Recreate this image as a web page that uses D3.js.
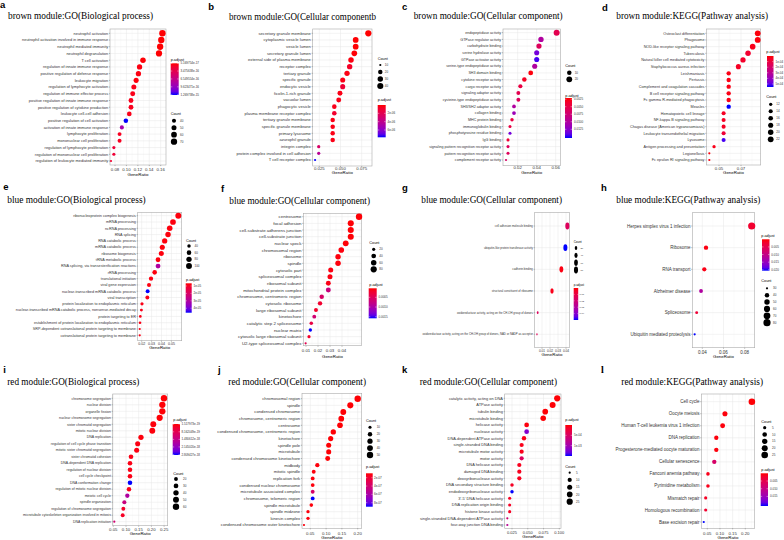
<!DOCTYPE html>
<html><head><meta charset="utf-8">
<script src="https://cdn.jsdelivr.net/npm/d3@7"></script>
<style>body{margin:0;background:#fff}svg{display:block}</style></head>
<body><svg id="c" width="784" height="540"></svg>
<script>
// ---------------- DATA ----------------
const aTerms=["neutrophil activation","neutrophil activation involved in immune response","neutrophil mediated immunity","neutrophil degranulation","T cell activation","regulation of innate immune response","positive regulation of defense response","leukocyte migration","regulation of lymphocyte activation","regulation of immune effector process","positive regulation of innate immune response","positive regulation of cytokine production","leukocyte cell-cell adhesion","positive regulation of cell activation","activation of innate immune response","lymphocyte proliferation","mononuclear cell proliferation","regulation of lymphocyte proliferation","regulation of mononuclear cell proliferation","regulation of leukocyte mediated immunity"];
const aRatio=[0.163,0.161,0.159,0.157,0.129,0.123,0.121,0.117,0.113,0.111,0.108,0.108,0.105,0.099,0.092,0.088,0.088,0.078,0.078,0.073];
const aCount=[72,71,70,69,57,54,53,51,50,49,48,48,46,44,40,39,39,34,34,32];
const aPadj=[5.2e-17,5.2e-17,5.2e-17,5.2e-17,5.8e-17,8.3e-17,8.3e-17,7.1e-17,1.08e-16,1.08e-16,1.2e-16,1.2e-16,1.08e-16,1.28e-15,8.48e-16,1.32e-16,1.32e-16,2.31e-16,2.31e-16,1.94e-16];
const aPadjDomain=[4.6e-17,1.28e-15];
const aPadjLabels=["5.169754e-17","3.475638e-16","6.549554e-16","9.623471e-16","1.269738e-15"];
const aXTicks=[0.08,0.10,0.12,0.14,0.16];
const aXLabels=["0.08","0.10","0.12","0.14","0.16"];
const aCountBreaks=[40,50,60,70];

const bTerms=["secretory granule membrane","cytoplasmic vesicle lumen","vesicle lumen","secretory granule lumen","external side of plasma membrane","receptor complex","tertiary granule","specific granule","endocytic vesicle","ficolin-1-rich granule","vacuolar lumen","phagocytic vesicle","plasma membrane receptor complex","tertiary granule membrane","specific granule membrane","primary lysosome","azurophil granule","integrin complex","protein complex involved in cell adhesion","T cell receptor complex"];
const bRatio=[0.0828,0.0679,0.0679,0.0663,0.0624,0.0608,0.0577,0.0526,0.0526,0.0494,0.0479,0.0427,0.0427,0.0408,0.0408,0.0408,0.0408,0.0243,0.0243,0.020];
const bCount=[41,34,34,33,31,30,29,26,26,25,24,21,21,20,20,20,20,12,12,10];
const bPadj=[1e-8,5e-8,5e-8,8e-8,2e-7,7e-7,2.5e-7,3e-7,1.1e-6,3e-7,3.5e-7,4e-7,9e-7,3e-7,3e-7,3e-7,3e-7,2.7e-6,4.3e-6,7.75e-6];
const bPadjDomain=[0,7.75e-6];
const bPadjLabels=["2e-06","4e-06","6e-06"];
const bXTicks=[0.025,0.05,0.075];
const bXLabels=["0.025","0.050","0.075"];
const bCountBreaks=[10,20,30,40];

const cTerms=["endopeptidase activity","GTPase regulator activity","carbohydrate binding","serine hydrolase activity","GTPase activator activity","serine-type endopeptidase activity","SH3 domain binding","cytokine receptor activity","cargo receptor activity","signaling adaptor activity","cysteine-type endopeptidase activity","SH3/SH2 adaptor activity","collagen binding","MHC protein binding","immunoglobulin binding","phosphotyrosine residue binding","IgG binding","signaling pattern recognition receptor activity","pattern recognition receptor activity","complement receptor activity"];
const cRatio=[0.061,0.0445,0.0424,0.040,0.040,0.0379,0.0337,0.027,0.0228,0.0207,0.0207,0.0161,0.0161,0.014,0.0119,0.0119,0.0098,0.0098,0.0098,0.0077];
const cCount=[22,16,15,14,14,14,12,10,8,7,7,6,6,5,4,4,4,4,4,3];
const cPadj=[0.00543,0.01008,0.00609,0.01341,0.01474,0.01008,0.00237,0.00316,0.00476,0.00543,0.00609,0.01008,0.01141,0.00476,0.00476,0.01341,0.0041,0.00609,0.00609,0.00676];
const cPadjDomain=[0.0021,0.0154];
const cPadjLabels=["0.0025","0.0050","0.0075","0.0100","0.0125"];
const cXTicks=[0.02,0.04,0.06];
const cXLabels=["0.02","0.04","0.06"];
const cCountBreaks=[10,20];

const dTerms=["Osteoclast differentiation","Phagosome","NOD-like receptor signaling pathway","Tuberculosis","Natural killer cell mediated cytotoxicity","Staphylococcus aureus infection","Leishmaniasis","Pertussis","Complement and coagulation cascades","B cell receptor signaling pathway","Fc gamma R-mediated phagocytosis","Measles","Hematopoietic cell lineage","NF-kappa B signaling pathway","Chagas disease (American trypanosomiasis)","Leukocyte transendothelial migration","Lysosome","Antigen processing and presentation","Legionellosis","Fc epsilon RI signaling pathway"];
const dRatio=[0.0852,0.0852,0.0806,0.0764,0.0718,0.0676,0.0588,0.0588,0.0588,0.0588,0.0588,0.0588,0.0542,0.0542,0.0542,0.0542,0.0542,0.0455,0.0412,0.0412];
const dCount=[22,22,21,20,19,18,15,15,15,15,15,15,14,14,14,14,14,12,11,11];
const dPadj=[1.1e-5,1.1e-5,2.8e-5,6.6e-5,5.5e-5,4.4e-5,2.2e-5,2.2e-5,2.2e-5,2.2e-5,2.2e-5,5.54e-4,4.4e-5,4.4e-5,4.4e-5,8.3e-5,5.26e-4,2.8e-5,1.1e-5,1.7e-5];
const dPadjDomain=[0,5.54e-4];
const dPadjLabels=["1e-04","2e-04","3e-04","4e-04","5e-04"];
const dXTicks=[0.05,0.07];
const dXLabels=["0.05","0.07"];
const dCountBreaks=[12,14,16,18,20,22];

const eTerms=["ribonucleoprotein complex biogenesis","mRNA processing","ncRNA processing","RNA splicing","RNA catabolic process","mRNA catabolic process","ribosome biogenesis","tRNA metabolic process","RNA splicing, via transesterification reactions","rRNA processing","translational initiation","viral gene expression","nuclear-transcribed mRNA catabolic process","viral transcription","protein localization to endoplasmic reticulum","nuclear-transcribed mRNA catabolic process, nonsense-mediated decay","protein targeting to ER","establishment of protein localization to endoplasmic reticulum","SRP-dependent cotranslational protein targeting to membrane","cotranslational protein targeting to membrane"];
const eRatio=[0.057,0.0516,0.0483,0.0466,0.0432,0.0408,0.0398,0.0365,0.0365,0.0331,0.0294,0.0274,0.026,0.0257,0.0203,0.0197,0.0186,0.0183,0.018,0.018];
const eCount=[103,93,87,84,78,73,72,66,66,60,53,49,47,46,37,35,33,33,32,32];
const ePadj=[7.2e-6,7.2e-6,7.2e-6,7.2e-6,7.2e-6,7.2e-6,7.2e-6,7.2e-6,3.02e-5,7.2e-6,7.6e-6,7.6e-6,4.6e-5,8.0e-6,8.0e-6,8.4e-6,8.0e-6,8.0e-6,8.0e-6,8.0e-6];
const ePadjDomain=[6.4e-6,4.6e-5];
const ePadjLabels=["1e-05","2e-05","3e-05","4e-05"];
const eXTicks=[0.02,0.03,0.04,0.05];
const eXLabels=["0.02","0.03","0.04","0.05"];
const eCountBreaks=[40,60,80,100];

const fTerms=["centrosome","focal adhesion","cell-substrate adherens junction","cell-substrate junction","nuclear speck","chromosomal region","ribosome","spindle","cytosolic part","spliceosomal complex","ribosomal subunit","mitochondrial protein complex","chromosome, centromeric region","cytosolic ribosome","large ribosomal subunit","kinetochore","catalytic step 2 spliceosome","nuclear matrix","cytosolic large ribosomal subunit","U2-type spliceosomal complex"];
const fRatio=[0.0542,0.0473,0.0473,0.0473,0.0431,0.0394,0.0367,0.0367,0.0306,0.030,0.0286,0.0286,0.0231,0.0217,0.0183,0.0169,0.0144,0.0136,0.0125,0.0097];
const fCount=[87,76,76,76,69,63,59,59,49,48,46,46,37,35,29,27,23,22,20,16];
const fPadj=[5.1e-5,5.1e-5,5.1e-5,5.1e-5,5.1e-5,6.7e-5,6.7e-5,6.7e-5,8.2e-5,8.2e-5,9.8e-5,7.31e-4,5.76e-4,2.21e-4,1.9e-4,6.54e-4,3.45e-4,1.58e-3,1.9e-4,4.22e-4];
const fPadjDomain=[3.6e-5,1.58e-3];
const fPadjLabels=["0.0005","0.0010","0.0015"];
const fXTicks=[0.01,0.02,0.03,0.04];
const fXLabels=["0.01","0.02","0.03","0.04"];
const fCountBreaks=[20,40,60,80];

const gTerms=["cell adhesion molecule binding","ubiquitin-like protein transferase activity","cadherin binding","structural constituent of ribosome","oxidoreductase activity, acting on the CH-OH group of donors","oxidoreductase activity, acting on the CH-OH group of donors, NAD or NADP as acceptor"];
const gRatio=[0.0417,0.0392,0.0342,0.0225,0.0046,0.0037];
const gCount=[79,74,65,43,9,7];
const gPadj=[0.015,0.05,0.0015,0.0025,0.015,0.014];
const gPadjDomain=[0,0.05];
const gPadjLabels=["0.01","0.02","0.03","0.04"];
const gXTicks=[0.01,0.02,0.03,0.04];
const gXLabels=["0.01","0.02","0.03","0.04"];
const gCountBreaks=[20,40,60,80];

const hTerms=["Herpes simplex virus 1 infection","Ribosome","RNA transport","Alzheimer disease","Spliceosome","Ubiquitin mediated proteolysis"];
const hRatio=[0.0866,0.0435,0.0419,0.0388,0.0347,0.0328];
const hCount=[78,39,38,35,31,30];
const hPadj=[0.00247,0.00062,0.00082,0.01236,0.00309,0.0206];
const hPadjDomain=[0,0.0206];
const hPadjLabels=["0.005","0.010","0.015","0.020"];
const hXTicks=[0.04,0.06,0.08];
const hXLabels=["0.04","0.06","0.08"];
const hCountBreaks=[30,40,50,60,70,80];

const iTerms=["chromosome segregation","nuclear division","organelle fission","nuclear chromosome segregation","sister chromatid segregation","mitotic nuclear division","DNA replication","regulation of cell cycle phase transition","mitotic sister chromatid segregation","sister chromatid cohesion","DNA-dependent DNA replication","regulation of nuclear division","cell cycle checkpoint","DNA conformation change","regulation of mitotic nuclear division","meiotic cell cycle","spindle organization","regulation of chromosome segregation","microtubule cytoskeleton organization involved in mitosis","DNA replication initiation"];
const iRatio=[0.2496,0.243,0.243,0.2326,0.2075,0.2035,0.159,0.146,0.142,0.1197,0.1157,0.1157,0.1157,0.1157,0.1118,0.1052,0.0935,0.0895,0.087,0.054];
const iCount=[60,58,58,56,50,49,38,35,34,29,28,28,28,28,27,25,22,21,21,13];
const iPadj=[1.57e-19,1.57e-19,1.57e-19,1.57e-19,1.84e-19,1.84e-19,1.84e-19,2.12e-19,2.12e-19,2.39e-19,2.39e-19,2.39e-19,2.39e-19,2.85e-18,2.66e-19,1.76e-18,1.354e-18,4.02e-19,3.48e-19,1.218e-18];
const iPadjDomain=[1.3e-19,2.85e-18];
const iPadjLabels=["1.517973e-19","8.162049e-19","1.480612e-18","2.145020e-18","2.809427e-18"];
const iXTicks=[0.05,0.10,0.15,0.20,0.25];
const iXLabels=["0.05","0.10","0.15","0.20","0.25"];
const iCountBreaks=[20,30,40,50,60];

const jTerms=["chromosomal region","spindle","condensed chromosome","chromosome, centromeric region","centrosome","condensed chromosome, centromeric region","kinetochore","spindle pole","microtubule","condensed chromosome kinetochore","midbody","mitotic spindle","replication fork","condensed nuclear chromosome","microtubule associated complex","chromosome, telomeric region","spindle microtubule","spindle midzone","kinesin complex","condensed chromosome outer kinetochore"];
const jRatio=[0.2,0.1766,0.1544,0.148,0.144,0.1228,0.1145,0.1082,0.1082,0.105,0.0722,0.0608,0.0576,0.0576,0.0576,0.0576,0.0532,0.0427,0.0427,0.030];
const jCount=[50,44,39,37,36,31,29,27,27,26,18,15,14,14,14,14,13,11,11,8];
const jPadj=[1.0e-7,1.0e-7,1.0e-7,1.0e-7,1.0e-7,1.0e-7,1.0e-7,1.0e-7,1.0e-7,1.0e-7,1.1e-7,1.1e-7,1.1e-7,1.1e-7,3.75e-7,8.96e-7,1.1e-7,1.1e-7,1.1e-7,1.1e-7];
const jPadjDomain=[0.94e-7,8.96e-7];
const jPadjLabels=["2e-07","4e-07","6e-07","8e-07"];
const jXTicks=[0.05,0.10,0.15,0.20];
const jXLabels=["0.05","0.10","0.15","0.20"];
const jCountBreaks=[10,20,30,40,50];

const kTerms=["catalytic activity, acting on DNA","ATPase activity","tubulin binding","microtubule binding","helicase activity","nuclease activity","DNA-dependent ATPase activity","single-stranded DNA binding","microtubule motor activity","motor activity","DNA helicase activity","damaged DNA binding","deoxyribonuclease activity","DNA secondary structure binding","endodeoxyribonuclease activity","3'-5' DNA helicase activity","DNA replication origin binding","histone kinase activity","single-stranded DNA-dependent ATPase activity","four-way junction DNA binding"];
const kRatio=[0.0967,0.0894,0.0777,0.0745,0.0482,0.0482,0.044,0.0403,0.0403,0.0403,0.0366,0.0366,0.0366,0.025,0.025,0.0213,0.0213,0.0213,0.0176,0.0176];
const kCount=[25,23,20,19,13,13,11,10,10,10,10,10,10,7,7,6,6,6,5,5];
const kPadj=[1.5e-5,1.5e-5,1.5e-5,1.5e-5,3e-5,1.2e-3,6e-5,7.5e-5,7.5e-5,4.5e-4,9e-5,9e-5,9e-5,1.2e-4,1.5e-3,1.2e-4,1.2e-4,1.2e-4,6e-4,8.25e-4];
const kPadjDomain=[0,1.5e-3];
const kPadjLabels=["5e-04","1e-03"];
const kXTicks=[0.025,0.05,0.075,0.1];
const kXLabels=["0.025","0.050","0.075","0.100"];
const kCountBreaks=[5,10,15,20,25];

const lTerms=["Cell cycle","Oocyte meiosis","Human T-cell leukemia virus 1 infection","DNA replication","Progesterone-mediated oocyte maturation","Cellular senescence","Fanconi anemia pathway","Pyrimidine metabolism","Mismatch repair","Homologous recombination","Base excision repair"];
const lRatio=[0.226,0.1197,0.1105,0.0855,0.0855,0.0776,0.0526,0.0526,0.0436,0.0436,0.036];
const lCount=[25,13,12,9,9,9,6,6,5,5,4];
const lPadj=[2.1e-4,4.2e-4,4.2e-4,4.2e-4,4.2e-4,0.00742,0.00106,0.00106,0.0017,0.00254,0.0212];
const lPadjDomain=[0,0.0212];
const lPadjLabels=["0.005","0.010","0.015"];
const lXTicks=[0.05,0.10,0.15,0.20];
const lXLabels=["0.05","0.10","0.15","0.20"];
const lCountBreaks=[5,10,15,20,25];

const titles={a:"brown module:GO(Biological process)",b:"brown module:GO(Cellular componentb",c:"brown module:GO(Cellular component)",d:"brown module:KEGG(Pathway analysis)",
 e:"blue module:GO(Biological process)",f:"blue module:GO(Cellular component)",g:"blue module:GO(Cellular component)",h:"blue module:KEGG(Pathway analysis)",
 i:"red module:GO(Biological process)",j:"red module:GO(Cellular component)",k:"red module:GO(Cellular component)",l:"red module:KEGG(Pathway analysis)"};

// ---------------- LAYOUT ----------------
const layout={
 a:{letter:[0,7.5],title:[8,19,145],plot:[110,166,29,165],rows:[33.3,161],tickPx:[115,160.7],tickY:170.5,gtY:175.5,lfs:3.9,tfs:4.3,rMin:1.1,rMax:3.2,
    cb:{x:170.7,w:8,y0:63.3,y1:95,ty:60.8,lx:180.5},cl:{ty:114.8,dx:174,lx:180,y0:120.7,y1:141.7},legX:170.7},
 b:{letter:[208.3,10],title:[229,19.5,147],plot:[312.7,372,29,166],rows:[33.3,160],tickPx:[319.3,361.7],tickY:169.8,gtY:174.2,lfs:4.1,tfs:4.3,rMin:1.1,rMax:3.1,
    cb:{x:377.7,w:8,y0:105,y1:137.3,ty:100.5,lx:387.5},cl:{ty:59.8,dx:380.3,lx:384.8,y0:65,y1:86},legX:377.7},
 c:{letter:[402,10],title:[413.7,19,149],plot:[503,560.3,29,165.7],rows:[32.7,160],tickPx:[517.7,555.7],tickY:169.2,gtY:174.2,lfs:3.65,tfs:4.3,rMin:1.1,rMax:3.0,
    cb:{x:565,w:7,y0:98,y1:138,ty:96.5,lx:574},cl:{ty:67.2,dx:569.3,lx:574.7,y0:72.7,y1:79.3},legX:565.3},
 d:{letter:[602,10.7],title:[616.3,19,151.7],plot:[706.3,760.7,29,165],rows:[33.3,160],tickPx:[719,741],tickY:169.8,gtY:174.2,lfs:3.75,tfs:4.3,rMin:1.1,rMax:2.9,
    cb:{x:767,w:6.5,y0:56,y1:87,ty:53.2,lx:775.5},cl:{ty:97.5,dx:770.7,lx:776.3,y0:104.3,y1:139.3},legX:766.3},
 e:{letter:[3.3,190],title:[7.3,202.5,138.4],plot:[137.7,181.7,212.3,340.7],rows:[215.7,335.3],tickPx:[141.7,171.4],tickY:345,gtY:348.8,lfs:3.75,tfs:3.6,rMin:1.1,rMax:3.0,
    cb:{x:185.7,w:6,y0:283.3,y1:312.7,ty:280.8,lx:193.5},cl:{ty:241.5,dx:189,lx:194.5,y0:246,y1:266},legX:186},
 f:{letter:[221,191.7],title:[229.3,203.7,140.7],plot:[303.3,361.7,213.3,345.7],rows:[216.7,343.3],tickPx:[306,342],tickY:352.2,gtY:357.5,lfs:4.4,tfs:4.3,rMin:1.1,rMax:3.2,
    cb:{x:368.7,w:8,y0:288.3,y1:318.3,ty:285.5,lx:378.5},cl:{ty:244.2,dx:373.7,lx:379.3,y0:249.3,y1:269.3},legX:369.3},
 g:{letter:[402,191],title:[421.3,203,140.7],plot:[534.7,569.3,212.3,347.7],rows:[226,334.3],tickPx:[542,566],tickY:351.5,gtY:355.5,lfs:2.8,tfs:3.2,rMin:1.1,rMax:3.4,aspect:0.6,small:true,
    cb:{x:573.7,w:4.5,y0:288,y1:320,ty:286,lx:579.5},cl:{ty:243.2,dx:576,lx:580.5,y0:248,y1:270},legX:573.7},
 h:{letter:[601,190.7],title:[616.3,203,144],plot:[692.3,754.7,212.7,347.7],rows:[226,334.3],tickPx:[702.3,744.7],tickY:354.2,gtY:358.2,lfs:4.5,tfs:4.5,rMin:1.1,rMax:3.6,
    cb:{x:762,w:7.5,y0:239.3,y1:270.7,ty:236.5,lx:771.3},cl:{ty:282.2,dx:767,lx:773,y0:288.3,y1:322.7},legX:761.3},
 i:{letter:[3.3,372.7],title:[7.3,384.7,132],plot:[112.7,167.7,394,525.7],rows:[398.3,521.7],tickPx:[113.3,164.1],tickY:530.8,gtY:534.8,lfs:3.5,tfs:4.3,rMin:1.1,rMax:3.2,
    cb:{x:172.7,w:7.3,y0:424,y1:455,ty:420.8,lx:181.5},cl:{ty:474.8,dx:176,lx:183,y0:479,y1:506.7},legX:173.3},
 j:{letter:[218,373],title:[228.3,384.7,137.7],plot:[302,361.7,393.3,528.3],rows:[398.7,525],tickPx:[310.3,357.7],tickY:534.8,gtY:538.8,lfs:4.2,tfs:4.3,rMin:1.1,rMax:3.2,
    cb:{x:366,w:6.7,y0:473.3,y1:506.7,ty:468.2,lx:374},cl:{ty:422.2,dx:370,lx:376.7,y0:427.3,y1:455},legX:366},
 k:{letter:[402,372.7],title:[419.7,384.7,137.3],plot:[504.7,561,394,528.3],rows:[398.3,525],tickPx:[512,559.3],tickY:534.2,gtY:538.2,lfs:3.9,tfs:4.0,rMin:1.1,rMax:3.1,
    cb:{x:565.3,w:6.7,y0:425,y1:456,ty:420.8,lx:574},cl:{ty:467.5,dx:569.7,lx:576,y0:472.7,y1:501.7},legX:565.3},
 l:{letter:[601,373.3],title:[621.3,384.7,141.7],plot:[701.3,754.7,394,528.3],rows:[401.7,522],tickPx:[707.3,745.3],tickY:534.8,gtY:538.8,lfs:4.5,tfs:4.3,rMin:1.1,rMax:3.3,serifLetter:true,
    cb:{x:760.7,w:7.3,y0:473.3,y1:506,ty:470.8,lx:770},cl:{ty:422.5,dx:764.7,lx:772,y0:427.7,y1:455},legX:761.3}
};

const panels=[
 {id:"a",terms:aTerms,ratio:aRatio,count:aCount,padj:aPadj,pd:aPadjDomain,pl:aPadjLabels,xt:aXTicks,xl:aXLabels,cbk:aCountBreaks},
 {id:"b",terms:bTerms,ratio:bRatio,count:bCount,padj:bPadj,pd:bPadjDomain,pl:bPadjLabels,xt:bXTicks,xl:bXLabels,cbk:bCountBreaks},
 {id:"c",terms:cTerms,ratio:cRatio,count:cCount,padj:cPadj,pd:cPadjDomain,pl:cPadjLabels,xt:cXTicks,xl:cXLabels,cbk:cCountBreaks},
 {id:"d",terms:dTerms,ratio:dRatio,count:dCount,padj:dPadj,pd:dPadjDomain,pl:dPadjLabels,xt:dXTicks,xl:dXLabels,cbk:dCountBreaks},
 {id:"e",terms:eTerms,ratio:eRatio,count:eCount,padj:ePadj,pd:ePadjDomain,pl:ePadjLabels,xt:eXTicks,xl:eXLabels,cbk:eCountBreaks},
 {id:"f",terms:fTerms,ratio:fRatio,count:fCount,padj:fPadj,pd:fPadjDomain,pl:fPadjLabels,xt:fXTicks,xl:fXLabels,cbk:fCountBreaks},
 {id:"g",terms:gTerms,ratio:gRatio,count:gCount,padj:gPadj,pd:gPadjDomain,pl:gPadjLabels,xt:gXTicks,xl:gXLabels,cbk:gCountBreaks},
 {id:"h",terms:hTerms,ratio:hRatio,count:hCount,padj:hPadj,pd:hPadjDomain,pl:hPadjLabels,xt:hXTicks,xl:hXLabels,cbk:hCountBreaks},
 {id:"i",terms:iTerms,ratio:iRatio,count:iCount,padj:iPadj,pd:iPadjDomain,pl:iPadjLabels,xt:iXTicks,xl:iXLabels,cbk:iCountBreaks},
 {id:"j",terms:jTerms,ratio:jRatio,count:jCount,padj:jPadj,pd:jPadjDomain,pl:jPadjLabels,xt:jXTicks,xl:jXLabels,cbk:jCountBreaks},
 {id:"k",terms:kTerms,ratio:kRatio,count:kCount,padj:kPadj,pd:kPadjDomain,pl:kPadjLabels,xt:kXTicks,xl:kXLabels,cbk:kCountBreaks},
 {id:"l",terms:lTerms,ratio:lRatio,count:lCount,padj:lPadj,pd:lPadjDomain,pl:lPadjLabels,xt:lXTicks,xl:lXLabels,cbk:lCountBreaks}
];

// ---------------- DRAW ----------------
const svg=d3.select("#c");
svg.append("rect").attr("width",784).attr("height",540).attr("fill","#fff");
const SANS="'Liberation Sans', Arial, sans-serif", SERIF="'Liberation Serif', 'Times New Roman', serif";
const interp=d3.interpolateLab("#ff0000","#0000ff");
const defs=svg.append("defs");
const grad=defs.append("linearGradient").attr("id","pgrad").attr("x1",0).attr("y1",0).attr("x2",0).attr("y2",1);
d3.range(0,1.0001,0.1).forEach(t=>grad.append("stop").attr("offset",t).attr("stop-color",interp(t)));

panels.forEach(p=>{
  const L=layout[p.id];
  const g=svg.append("g");
  const [pl,pr,pt,pb]=L.plot;
  const x=d3.scaleLinear().domain([p.xt[0],p.xt[p.xt.length-1]]).range(L.tickPx);
  const y=d3.scalePoint().domain(p.terms).range(L.rows);
  const color=d3.scaleLinear().domain(p.pd).range([0,1]).clamp(true);
  const cmin=d3.min(p.count), cmax=d3.max(p.count);
  const rs=d3.scaleLinear().domain([0,1]).range([L.rMin,L.rMax]);
  const norm=d3.scaleLinear().domain([cmin,cmax]).range([0,1]).clamp(true);
  const r=c=>rs(Math.sqrt(norm(c)));
  const asp=L.aspect||1;

  g.append("text").attr("x",L.letter[0]).attr("y",L.letter[1]).text(p.id)
    .attr("font-family",L.serifLetter?SERIF:SANS).attr("font-weight","bold").attr("font-size",L.serifLetter?10:9.5);
  g.append("text").attr("x",L.title[0]).attr("y",L.title[1]).text(titles[p.id])
    .attr("font-family",SERIF).attr("font-size",9.4).attr("textLength",L.title[2]).attr("lengthAdjust","spacingAndGlyphs");
  g.append("rect").attr("x",pl).attr("y",pt).attr("width",pr-pl).attr("height",pb-pt).attr("fill","#fff");
  const v0=x.invert(pl), v1=x.invert(pr);
  const step=p.xt.length>1?(p.xt[1]-p.xt[0]):0.01;
  const minor=[];
  for(let v=p.xt[0]-step/2; v<=v1; v+=step){ if(v>=v0) minor.push(v); }
  g.selectAll(null).data(minor).join("line").attr("x1",d=>x(d)).attr("x2",d=>x(d)).attr("y1",pt).attr("y2",pb)
    .attr("stroke","#f2f2f2").attr("stroke-width",0.3);
  g.selectAll(null).data(p.xt.filter(v=>v>=v0&&v<=v1)).join("line").attr("x1",d=>x(d)).attr("x2",d=>x(d)).attr("y1",pt).attr("y2",pb)
    .attr("stroke","#e6e6e6").attr("stroke-width",0.5);
  g.selectAll(null).data(p.terms).join("line").attr("x1",pl).attr("x2",pr).attr("y1",d=>y(d)).attr("y2",d=>y(d))
    .attr("stroke","#e6e6e6").attr("stroke-width",0.5);
  g.append("rect").attr("x",pl).attr("y",pt).attr("width",pr-pl).attr("height",pb-pt).attr("fill","none")
    .attr("stroke","#aaaaaa").attr("stroke-width",0.6);
  g.selectAll(null).data(p.terms).join("line").attr("x1",pl-1.1).attr("x2",pl).attr("y1",d=>y(d)).attr("y2",d=>y(d))
    .attr("stroke","#555").attr("stroke-width",0.4);
  g.selectAll(null).data(p.xt).join("line").attr("x1",d=>x(d)).attr("x2",d=>x(d)).attr("y1",pb).attr("y2",pb+1.1)
    .attr("stroke","#555").attr("stroke-width",0.4);
  g.selectAll(null).data(p.terms).join("text").attr("x",pl-1.8).attr("y",d=>y(d)).attr("dy","0.35em")
    .attr("text-anchor","end").attr("font-family",SANS).attr("font-size",L.lfs).attr("fill","#333").text(d=>d);
  g.selectAll(null).data(p.xt).join("text").attr("x",d=>x(d)).attr("y",L.tickY).attr("text-anchor","middle")
    .attr("font-family",SANS).attr("font-size",L.tfs).attr("fill","#333").text((d,i)=>p.xl[i]);
  g.append("text").attr("x",(pl+pr)/2).attr("y",L.gtY).attr("text-anchor","middle").attr("font-family",SANS)
    .attr("font-size",4.4).text("GeneRatio");
  g.selectAll(null).data(p.terms).join("ellipse")
    .attr("cx",(d,i)=>x(p.ratio[i])).attr("cy",d=>y(d))
    .attr("rx",(d,i)=>r(p.count[i])*asp).attr("ry",(d,i)=>r(p.count[i]))
    .attr("fill",(d,i)=>interp(color(p.padj[i])));
  const lfs=L.small?2.4:3.0, ltf=L.small?3.0:3.8;
  const cb=L.cb;
  g.append("text").attr("x",L.legX).attr("y",cb.ty).text("p.adjust").attr("font-family",SANS).attr("font-size",ltf);
  g.append("rect").attr("x",cb.x).attr("y",cb.y0).attr("width",cb.w).attr("height",cb.y1-cb.y0).attr("fill","url(#pgrad)");
  const cy=d3.scaleLinear().domain(p.pd).range([cb.y0,cb.y1]);
  const pvals=p.pl.map(Number);
  g.selectAll(null).data(pvals).join("line").attr("x1",cb.x).attr("x2",cb.x+cb.w*0.2).attr("y1",d=>cy(d)).attr("y2",d=>cy(d))
    .attr("stroke","#fff").attr("stroke-width",0.4);
  g.selectAll(null).data(pvals).join("line").attr("x1",cb.x+cb.w*0.8).attr("x2",cb.x+cb.w).attr("y1",d=>cy(d)).attr("y2",d=>cy(d))
    .attr("stroke","#fff").attr("stroke-width",0.4);
  g.selectAll(null).data(pvals).join("text").attr("x",cb.lx).attr("y",d=>cy(d)).attr("dy","0.35em")
    .attr("font-family",SANS).attr("font-size",lfs).attr("fill","#333").text((d,i)=>p.pl[i]);
  const cl=L.cl;
  g.append("text").attr("x",L.legX).attr("y",cl.ty).text("Count").attr("font-family",SANS).attr("font-size",ltf);
  const ky=d3.scalePoint().domain(p.cbk).range([cl.y0,cl.y1]);
  g.selectAll(null).data(p.cbk).join("ellipse").attr("cx",cl.dx).attr("cy",d=>ky(d))
    .attr("rx",d=>r(d)*asp).attr("ry",d=>r(d)).attr("fill","#000");
  g.selectAll(null).data(p.cbk).join("text").attr("x",cl.lx).attr("y",d=>ky(d)).attr("dy","0.35em")
    .attr("font-family",SANS).attr("font-size",lfs).attr("fill","#333").text(d=>d);
});
</script></body></html>
